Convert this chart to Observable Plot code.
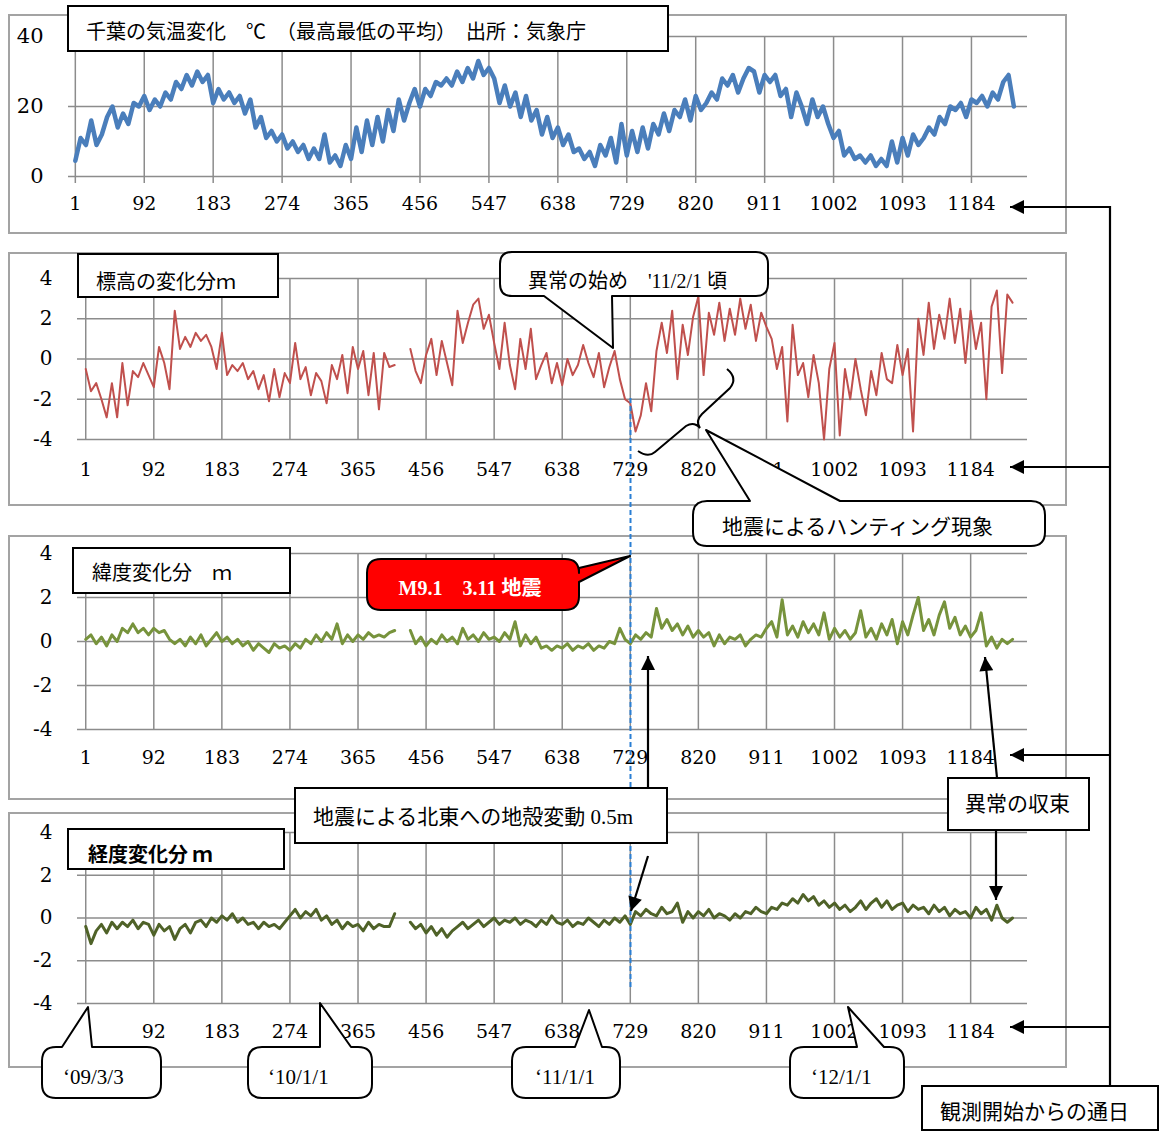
<!DOCTYPE html>
<html><head><meta charset="utf-8">
<script src="https://cdn.jsdelivr.net/npm/d3@7"></script>
<script src="https://cdn.jsdelivr.net/npm/@observablehq/plot@0.6"></script>
<style>
body{margin:0;background:#fff;}
#page{position:relative;width:1162px;height:1131px;overflow:hidden;background:#fff;}
.box{position:absolute;border:2px solid #a3a3a3;box-sizing:border-box;}
.plot{position:absolute;}
#overlay{position:absolute;left:0;top:0;}
</style></head><body><div id="page"></div>
<script>
// ---------- data (one value every 7 days from day 1) ----------
const dayStart = 1, dayStep = 7;
const xTicks = [1, 92, 183, 274, 365, 456, 547, 638, 729, 820, 911, 1002, 1093, 1184];
const tempTicks = [0, 20, 40];
const gpsTicks = [-4, -2, 0, 2, 4];

const tempC = [
  4.5, 11, 9, 16, 9, 12, 17, 20, 14, 18, 15, 21, 20,
  23, 19, 22, 20, 24, 22, 27, 25, 29, 26, 30, 27, 29,
  21, 25, 22, 24, 21, 23, 18, 22, 14, 17, 11, 13, 10,
  12, 8, 10, 7, 9, 5, 8, 5, 12, 4, 6, 3, 9,
  5, 14, 7, 16, 9, 17, 10, 19, 13, 22, 16, 21, 25,
  20, 25, 23, 27, 26, 28, 26, 30, 27, 31, 28, 33, 29,
  31, 28, 21, 26, 20, 24, 17, 23, 16, 19, 12, 17, 11,
  14, 9, 12, 7, 8, 5, 7, 3, 9, 6, 11, 4, 15,
  6, 13, 7, 14, 8, 15, 12, 18, 13, 19, 17, 22, 16,
  23, 19, 21, 24, 22, 28, 26, 29, 24, 28, 31, 30, 24,
  29, 27, 29, 23, 25, 17, 24, 20, 15, 22, 17, 20, 15,
  11, 13, 6, 8, 5, 6, 4, 6, 3, 5, 3, 10, 4,
  11, 6, 12, 9, 11, 14, 12, 17, 15, 20, 19, 21, 17,
  22, 21, 23, 20, 24, 22, 27, 29, 20
];
const heightM = [
  -0.5, -1.6, -1.2, -2.0, -2.9, -1.2, -2.9, -0.2, -2.3, -0.6, -0.9, -0.2, -0.8,
  -1.4, 0.6, -0.2, -1.5, 2.4, 0.5, 1.1, 0.6, 1.3, 0.9, 1.2, 0.6, -0.5,
  1.3, -0.8, -0.3, -0.6, -0.2, -1.0, -0.6, -1.5, -0.8, -2.1, -0.5, -1.9, -0.7,
  -1.2, 0.8, -1.0, -0.4, -1.8, -0.7, -1.1, -2.2, -0.3, -1.0, 0.2, -1.7, 0.6,
  -0.5, 0.4, -1.8, 0.3, -2.5, 0.3, -0.4, -0.3, null, null, 0.5, -0.6, -1.2,
  0.2, 1.0, -0.8, 0.9, -0.2, -1.3, 2.4, 0.8, 1.8, 2.7, 3.0, 1.5, 2.2,
  0.8, -0.5, 1.8, -0.3, -1.5, 1.0, -0.5, 1.5, -1.0, -0.3, 0.3, -1.2, -0.2,
  -1.3, 0.0, -0.8, -0.3, 0.7, -0.2, -0.9, 0.3, -1.4, -0.4, 0.4, -1.0, -2.0,
  -2.2, -3.6, -2.8, -1.2, -2.6, 0.4, 1.8, 0.3, 2.4, -1.0, 1.7, 0.2, 2.1,
  3.1, -0.8, 2.3, 1.2, 2.8, 0.9, 2.5, 1.2, 3.0, 1.5, 2.7, 0.9, 2.3,
  1.6, 1.0, -0.5, 0.6, -3.1, 1.7, -0.8, -0.2, -1.9, 0.2, -1.2, -4.0, -0.5,
  0.8, -3.8, -0.5, -2.0, 0.0, -1.5, -2.8, -0.6, -1.8, 0.3, -1.0, -1.2, 0.7,
  -0.8, 0.5, -3.6, 2.0, 0.2, 2.8, 0.5, 2.2, 1.0, 3.0, 0.8, 2.5, -0.2,
  2.4, 0.5, 1.8, -2.0, 2.6, 3.4, -0.7, 3.2, 2.8
];
const latM = [
  0.1, 0.3, -0.1, 0.2, -0.2, 0.3, 0.0, 0.6, 0.4, 0.8, 0.4, 0.6, 0.3,
  0.6, 0.4, 0.5, 0.1, -0.1, 0.1, -0.2, 0.2, -0.1, 0.3, -0.2, 0.1, 0.4,
  0.0, 0.2, -0.1, 0.1, -0.2, 0.0, -0.4, -0.1, -0.3, -0.5, -0.1, -0.3, -0.2,
  -0.4, -0.1, -0.3, 0.1, -0.1, 0.3, 0.0, 0.4, 0.1, 0.8, -0.1, 0.3, 0.0,
  0.3, 0.1, 0.4, 0.2, 0.3, 0.2, 0.4, 0.5, null, null, 0.5, -0.1, 0.2,
  -0.2, 0.1, -0.1, 0.3, 0.0, 0.2, -0.1, 0.6, 0.1, 0.3, 0.0, 0.4, 0.1,
  0.2, 0.0, 0.4, 0.1, 0.9, -0.2, 0.3, -0.1, 0.2, -0.3, -0.2, -0.4, -0.2,
  -0.3, -0.1, -0.4, -0.2, -0.3, -0.1, -0.4, -0.2, -0.3, 0.0, -0.1, 0.6, 0.1,
  -0.1, 0.3, 0.1, 0.4, 0.2, 1.5, 0.6, 1.0, 0.5, 0.8, 0.3, 0.7, 0.2,
  0.5, 0.2, 0.4, -0.2, 0.3, -0.1, 0.2, 0.1, 0.3, -0.2, 0.1, 0.3, 0.2,
  0.6, 0.9, 0.2, 1.9, 0.3, 0.7, 0.2, 0.9, 0.4, 0.8, 0.3, 1.3, 0.1,
  0.6, 0.2, 0.5, 0.1, 0.4, 1.4, 0.2, 0.6, 0.1, 0.8, 0.3, 1.0, -0.1,
  0.9, 0.3, 1.2, 2.0, 0.5, 1.0, 0.3, 1.2, 1.8, 0.6, 1.1, 0.3, 0.7,
  0.2, 0.5, 1.3, -0.2, 0.2, -0.3, 0.1, -0.1, 0.1
];
const lonM = [
  -0.4, -1.2, -0.6, -0.3, -0.7, -0.2, -0.5, -0.2, -0.4, -0.1, -0.5, -0.2, -0.3,
  -0.8, -0.3, -0.6, -0.4, -1.0, -0.5, -0.3, -0.7, -0.2, -0.1, -0.4, 0.0, -0.2,
  0.1, -0.1, 0.2, -0.2, 0.0, -0.3, -0.2, -0.5, -0.2, -0.4, -0.3, -0.5, -0.2,
  0.1, 0.4, 0.0, 0.3, 0.1, 0.4, -0.1, 0.1, -0.3, -0.1, -0.5, -0.2, -0.4,
  -0.3, -0.6, -0.2, -0.5, -0.3, -0.4, -0.4, 0.2, null, null, -0.2, -0.5, -0.3,
  -0.7, -0.4, -0.8, -0.5, -0.9, -0.6, -0.4, -0.2, -0.5, -0.3, -0.1, -0.4, -0.2,
  0.0, -0.3, -0.1, -0.2, 0.0, -0.3, -0.1, -0.2, -0.4, -0.1, -0.3, 0.1, -0.2,
  -0.3, -0.1, -0.4, -0.2, -0.3, 0.0, -0.2, -0.4, -0.1, -0.3, 0.0, -0.2, 0.1,
  -0.3, 0.3, 0.1, 0.4, 0.2, 0.1, 0.5, 0.2, 0.3, 0.7, -0.2, 0.3, 0.0,
  0.3, 0.1, 0.4, 0.0, 0.2, 0.1, -0.1, 0.2, 0.0, 0.3, 0.2, 0.5, 0.3,
  0.2, 0.5, 0.4, 0.7, 0.6, 0.9, 0.7, 1.1, 0.8, 1.0, 0.6, 0.8, 0.5,
  0.7, 0.4, 0.6, 0.3, 0.5, 0.8, 0.4, 0.7, 0.9, 0.5, 0.8, 0.4, 0.6,
  0.7, 0.3, 0.6, 0.4, 0.5, 0.2, 0.6, 0.3, 0.5, 0.1, 0.4, 0.2, 0.3,
  0.0, 0.5, 0.2, 0.4, -0.1, 0.6, 0.0, -0.2, 0.0
];

// ---------- panels ----------
const series = vals => vals.map((v, i) => ({day: dayStart + i * dayStep, v}));
const page = document.getElementById("page");
const GRID = "#8c8c8c";
const NUMFONT = "'DejaVu Serif', serif";

const panels = [
  {values: tempC, left: 8, top: 14, w: 1059, h: 220, xDomain: [-8, 1258], ml: 60, mr: 40, mt: 22, mb: 58,
   yDomain: [0, 40], yTicks: tempTicks, color: "#4a7ebb", sw: 4.5, tickSize: 7, xPad: 13, xFont: 19, yFont: 21, yPad: 25},
  {values: heightM, left: 8, top: 252, w: 1059, h: 254, xDomain: [-10, 1260], ml: 69, mr: 40, mt: 26, mb: 67,
   yDomain: [-4, 4], yTicks: gpsTicks, color: "#c0504d", sw: 2, tickSize: 0, xPad: 23, xFont: 19, yFont: 20, yPad: 25},
  {values: latM, left: 8, top: 535, w: 1059, h: 265, xDomain: [-10, 1260], ml: 69, mr: 40, mt: 18, mb: 71,
   yDomain: [-4, 4], yTicks: gpsTicks, color: "#77933c", sw: 3, tickSize: 0, xPad: 21, xFont: 19, yFont: 20, yPad: 25},
  {values: lonM, left: 8, top: 812, w: 1059, h: 256, xDomain: [-10, 1260], ml: 69, mr: 40, mt: 20, mb: 65,
   yDomain: [-4, 4], yTicks: gpsTicks, color: "#4f6228", sw: 3, tickSize: 0, xPad: 21, xFont: 19, yFont: 20, yPad: 25}
];

for (const c of panels) {
  const box = document.createElement("div");
  box.className = "box";
  Object.assign(box.style, {left: c.left + "px", top: c.top + "px", width: c.w + "px", height: c.h + "px"});
  page.appendChild(box);
  const chart = Plot.plot({
    width: c.w, height: c.h,
    marginLeft: c.ml, marginRight: c.mr, marginTop: c.mt, marginBottom: c.mb,
    style: {background: "transparent", color: "#000", fontFamily: NUMFONT, overflow: "visible"},
    x: {domain: c.xDomain, label: null},
    y: {domain: c.yDomain, label: null},
    marks: [
      Plot.ruleY(c.yTicks, {stroke: GRID, strokeWidth: 1.5}),
      Plot.ruleX(xTicks, {stroke: GRID, strokeWidth: 1.5}),
      Plot.axisX(xTicks, {tickSize: c.tickSize, stroke: GRID, strokeWidth: 1.5, tickPadding: c.xPad, label: null,
        fontSize: c.xFont, fontFamily: NUMFONT, tickFormat: d => String(d)}),
      Plot.axisY(c.yTicks, {tickSize: 0, tickPadding: c.yPad, fontSize: c.yFont, fontFamily: NUMFONT, label: null,
        tickFormat: d => String(d)}),
      Plot.line(series(c.values), {x: "day", y: "v", stroke: c.color, strokeWidth: c.sw})
    ]
  });
  chart.classList.add("plot");
  chart.style.left = c.left + "px";
  chart.style.top = c.top + "px";
  page.appendChild(chart);
}

// ---------- annotations overlay ----------
const JP = "'Liberation Serif','Noto Sans CJK JP',serif";
const ov = d3.select(page).append("svg").attr("id", "overlay").attr("width", 1162).attr("height", 1131);
ov.append("defs").append("marker").attr("id", "ah").attr("viewBox", "0 0 10 10")
  .attr("refX", 10).attr("refY", 5).attr("markerUnits", "userSpaceOnUse")
  .attr("markerWidth", 16).attr("markerHeight", 14).attr("orient", "auto")
  .append("path").attr("d", "M0,0L10,5L0,10Z").attr("fill", "#000");

function label(x, y, t, o = {}) {
  ov.append("text").attr("x", x).attr("y", y).attr("dominant-baseline", "central")
    .attr("font-family", o.family || JP).attr("font-size", o.size || 20)
    .attr("font-weight", o.weight || "normal").attr("fill", o.fill || "#000")
    .attr("text-anchor", o.anchor || "start").text(t);
}
function rectBox(x, y, w, h) {
  ov.append("rect").attr("x", x).attr("y", y).attr("width", w).attr("height", h)
    .attr("fill", "#fff").attr("stroke", "#000").attr("stroke-width", 2);
}
function callout(x, y, w, h, r, side, p1, p2, tip, fill) {
  let d = `M${x + r},${y}`;
  if (side === "top") d += `L${p1},${y}L${tip[0]},${tip[1]}L${p2},${y}`;
  d += `L${x + w - r},${y}Q${x + w},${y} ${x + w},${y + r}`;
  if (side === "right") d += `L${x + w},${p1}L${tip[0]},${tip[1]}L${x + w},${p2}`;
  d += `L${x + w},${y + h - r}Q${x + w},${y + h} ${x + w - r},${y + h}`;
  if (side === "bottom") d += `L${p2},${y + h}L${tip[0]},${tip[1]}L${p1},${y + h}`;
  d += `L${x + r},${y + h}Q${x},${y + h} ${x},${y + h - r}L${x},${y + r}Q${x},${y} ${x + r},${y}Z`;
  ov.append("path").attr("d", d).attr("fill", fill || "#fff").attr("stroke", "#000")
    .attr("stroke-width", 2).attr("stroke-linejoin", "round");
}
function arrow(x1, y1, x2, y2) {
  ov.append("line").attr("x1", x1).attr("y1", y1).attr("x2", x2).attr("y2", y2)
    .attr("stroke", "#000").attr("stroke-width", 2.2).attr("marker-end", "url(#ah)");
}

// earthquake day dashed line
ov.append("line").attr("x1", 630.5).attr("x2", 630.5).attr("y1", 398).attr("y2", 990)
  .attr("stroke", "#2a7fd4").attr("stroke-width", 2).attr("stroke-dasharray", "5,3");

// panel titles
rectBox(68, 6, 600, 45);
label(86, 32, "千葉の気温変化　℃　（最高最低の平均）　出所：気象庁");
rectBox(78, 254, 200, 43);
label(96, 282, "標高の変化分ｍ");
rectBox(73, 548, 217, 45);
label(92, 573, "緯度変化分　ｍ");
rectBox(68, 829, 216, 40);
label(88, 853, "経度変化分 ｍ", {family: "'Noto Sans CJK JP',sans-serif", weight: "bold"});

// panel 2 callouts
callout(500, 252, 268, 44, 12, "bottom", 544, 612, [613, 348]);
label(528, 281, "異常の始め　'11/2/1 頃");
ov.append("path")
  .attr("d", "M727,369 Q738,378 730,388 L702,414 Q695,421 700,428 Q694,421 686,426 L655,452 Q648,458 638,451")
  .attr("fill", "none").attr("stroke", "#000").attr("stroke-width", 2);
callout(693, 501, 352, 45, 14, "top", 750, 840, [706, 430]);
label(722, 527, "地震によるハンティング現象", {size: 21});

// red earthquake label
callout(367, 559, 212, 51, 14, "right", 568, 582, [630, 556], "#ff0000");
label(470, 588, "M9.1　3.11 地震", {fill: "#fff", weight: "bold", anchor: "middle", size: 20});

// crust movement box and arrows
rectBox(295, 788, 372, 55);
label(313, 817, "地震による北東への地殻変動 0.5m", {size: 21});
arrow(648, 788, 648, 656);
arrow(648, 856, 631, 911);

// convergence box and arrows
rectBox(948, 778, 141, 52);
label(965, 804, "異常の収束", {size: 21});
arrow(997, 778, 985, 657);
arrow(996, 830, 996, 900);

// day counter connector
ov.append("line").attr("x1", 1110).attr("x2", 1110).attr("y1", 206).attr("y2", 1086)
  .attr("stroke", "#000").attr("stroke-width", 2.2);
for (const yy of [207, 467, 755, 1027]) arrow(1110, yy, 1010, yy);
rectBox(922, 1086, 236, 44);
label(940, 1112, "観測開始からの通日", {size: 21});

// date callouts
callout(42, 1047, 119, 51, 14, "top", 62, 92, [88, 1007]);
label(63, 1077, "‘09/3/3", {size: 21});
callout(248, 1047, 124, 51, 14, "top", 320, 351, [320, 1003]);
label(268, 1077, "‘10/1/1", {size: 21});
callout(512, 1047, 108, 51, 14, "top", 575, 602, [589, 1010]);
label(535, 1077, "‘11/1/1", {size: 21});
callout(790, 1047, 114, 51, 14, "top", 857, 884, [848, 1007]);
label(811, 1077, "‘12/1/1", {size: 21});
</script></body></html>
